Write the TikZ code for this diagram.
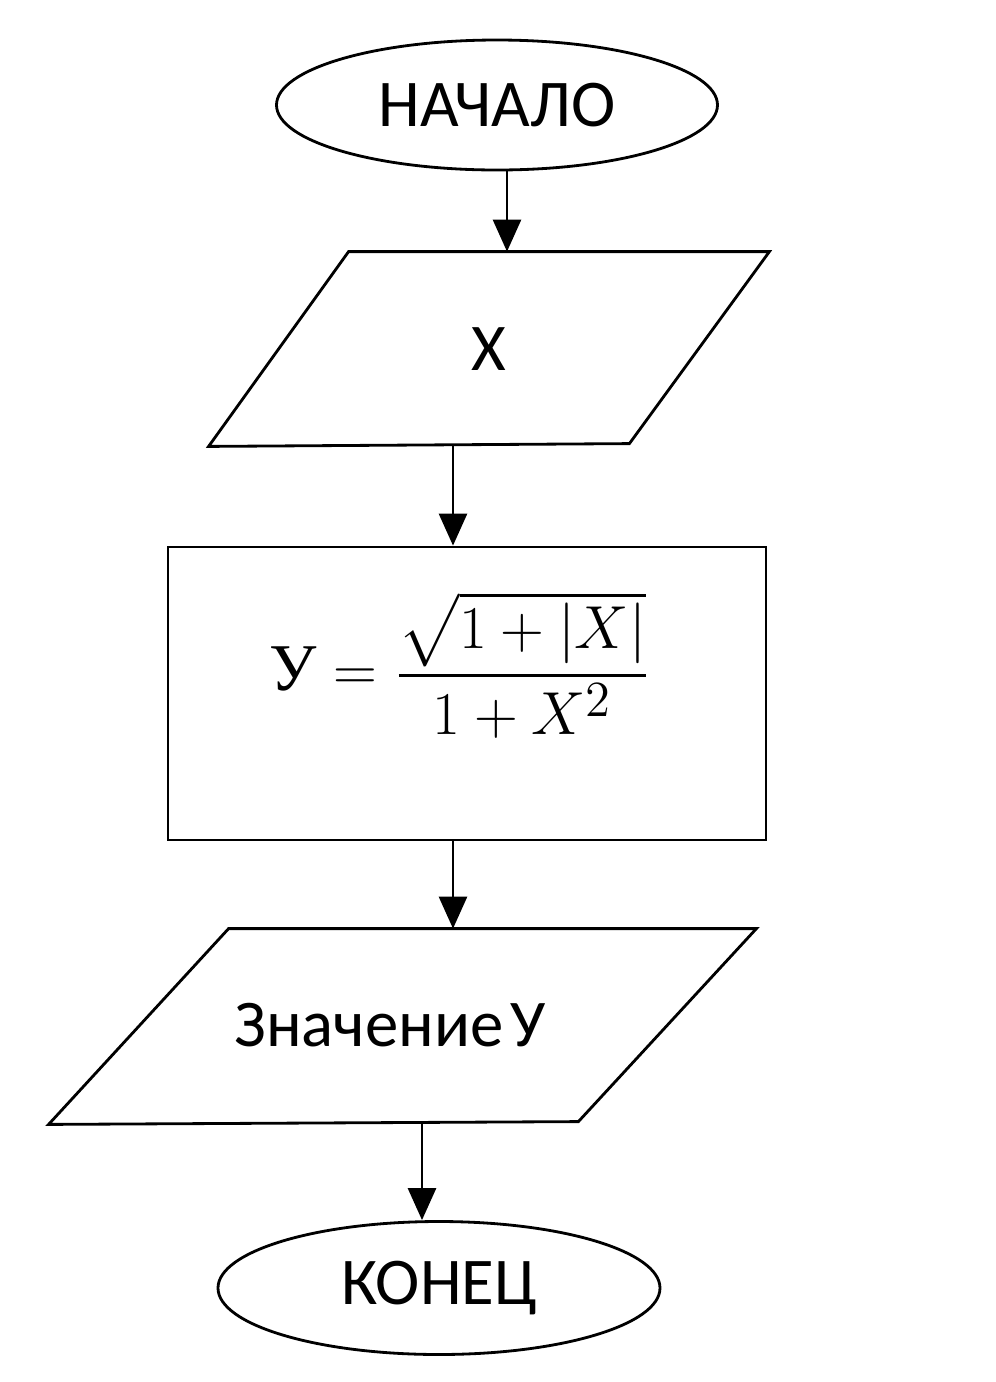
\documentclass[tikz,border=0pt]{standalone}
\usepackage{amsmath}
\usepackage{fontspec}
\setmainfont{Carlito}
\newfontfamily\cyrserif{Liberation Serif}
\usetikzlibrary{arrows.meta,positioning,shapes.geometric}
\definecolor{fcInk}{HTML}{000000}
\begin{document}
\begin{tikzpicture}[
  font=\fontsize{19}{23}\selectfont,
  line width=0.8pt,
  term/.style={draw=fcInk,ellipse,inner sep=0pt},
  iobox/.style={inner sep=0pt},
  procbox/.style={draw=fcInk,inner sep=0pt},
  arr/.style={draw=fcInk,-{Triangle[length=3.2mm,width=2.8mm]}}
]
\useasboundingbox (0,0) rectangle (9.95,-13.82);
\node[term,minimum width=4.41cm,minimum height=1.30cm] (start) at (4.97,-1.05) {НАЧАЛО};
\node[iobox,minimum width=5.58cm,minimum height=1.92cm] (in1) at (4.89,-3.49) {X};
\draw (in1.north west) ++(1.40,0) -- (in1.north east) -- ++(-1.40,-1.92) -- (in1.south west) -- cycle;
\node[procbox,minimum width=5.98cm,minimum height=2.93cm] (calc) at (4.67,-6.935) {};
\node[iobox] (form) at (4.60,-6.65)
  {$\mbox{\cyrserif У} = \dfrac{\sqrt{1+|X|}}{1+X^2}$};
\node[iobox,minimum width=7.05cm,minimum height=1.93cm] (out1) at (4.025,-10.265) {};
\draw (out1.north west) ++(1.80,0) -- (out1.north east) -- ++(-1.78,-1.93) -- (out1.south west) -- cycle;
\node[iobox] (outtxt) at (3.90,-10.25) {Значение\kern2pt У};
\node[term,minimum width=4.42cm,minimum height=1.33cm] (finish) at (4.39,-12.88) {КОНЕЦ};
\coordinate (c1) at (5.07,0);
\coordinate (c2) at (4.53,0);
\coordinate (c3) at (4.22,0);
\draw[arr] (start.south -| c1) -- (in1.north -| c1);
\draw[arr] (in1.south -| c2) -- (calc.north -| c2);
\draw[arr] (calc.south -| c2) -- (out1.north -| c2);
\draw[arr] (out1.south -| c3) -- (finish.north -| c3);
\end{tikzpicture}
\end{document}
